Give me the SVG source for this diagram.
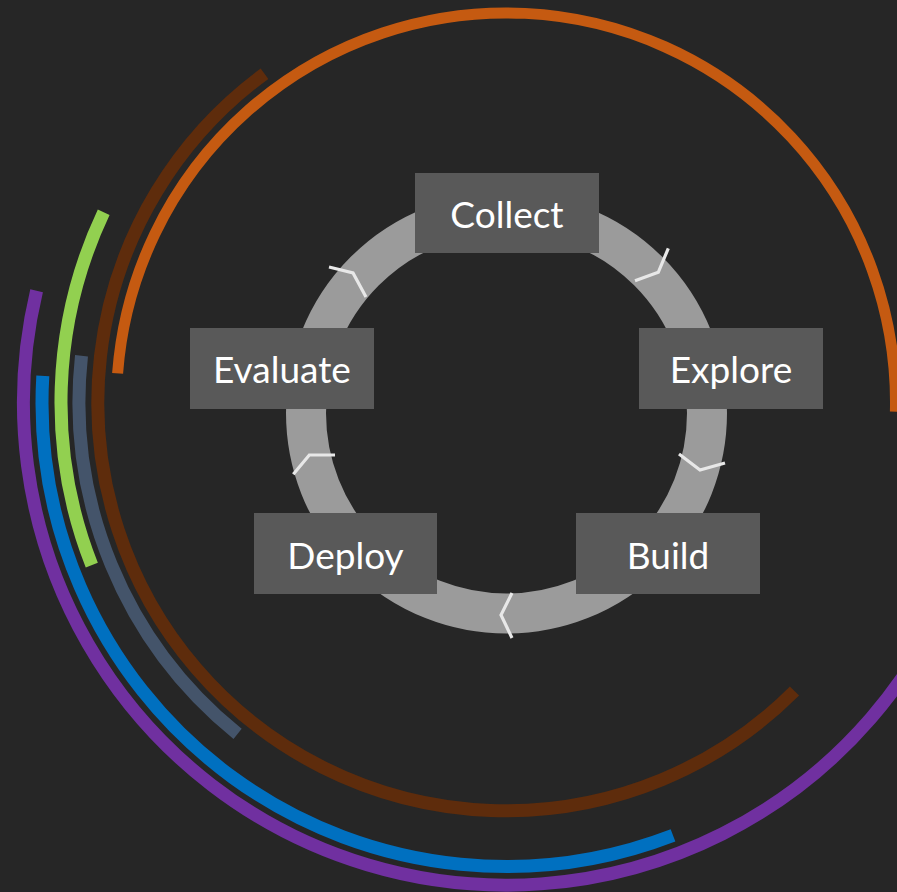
<svg xmlns="http://www.w3.org/2000/svg" width="897" height="892" viewBox="0 0 897 892">
  <style>
    .arc { fill: none; stroke-linecap: butt; }
    .box { fill: #595959; }
    .label { font-family: Lato, "Liberation Sans", sans-serif; font-size: 37px; fill: #ffffff; text-anchor: middle; }
    .chev { fill: none; stroke: #e8e8e8; stroke-width: 3.2; stroke-linejoin: miter; stroke-linecap: butt; }
  </style>
  <rect x="0" y="0" width="897" height="892" fill="#262626"/>
  <g id="outer-arcs">
    <path class="arc" d="M117.6,373.3 A389.5,389.5 0 0 1 895.4,411.7" stroke="#c55a11" stroke-width="11"/>
    <path class="arc" d="M794.5,691 A408,408 0 1 1 264.5,73.7" stroke="#5e2c0c" stroke-width="13"/>
    <path class="arc" d="M237.6,733.9 A426.5,426.5 0 0 1 81.5,355.7" stroke="#44546a" stroke-width="13"/>
    <path class="arc" d="M91.8,565.2 A445,445 0 0 1 103.7,212.3" stroke="#92d050" stroke-width="13"/>
    <path class="arc" d="M673,835.4 A464,464 0 0 1 42.8,375.8" stroke="#0070c0" stroke-width="13"/>
    <path class="arc" d="M959.4,567.5 A482.5,482.5 0 0 1 36.6,290.7" stroke="#7030a0" stroke-width="13"/>
  </g>
  <g id="cycle-ring">
    <circle cx="506.5" cy="413" r="200.5" fill="none" stroke="#9b9b9b" stroke-width="40"/>
  </g>
  <g id="connectors">
    <polyline class="chev" points="635,280.7 658.3,272.3 668.3,248.3"/>
    <polyline class="chev" points="679,454 700,470 725,463"/>
    <polyline class="chev" points="512,593 501,615 512,638"/>
    <polyline class="chev" points="293.3,474.3 309.3,455 335,455"/>
    <polyline class="chev" points="329,267 353,273 366,297"/>
  </g>
  <g id="node-collect">
    <rect class="box" x="415" y="173" width="184" height="80"/>
    <text class="label" x="507" y="228">Collect</text>
  </g>
  <g id="node-explore">
    <rect class="box" x="639" y="328" width="184" height="81"/>
    <text class="label" x="731" y="383">Explore</text>
  </g>
  <g id="node-build">
    <rect class="box" x="576" y="513" width="184" height="81"/>
    <text class="label" x="668" y="569">Build</text>
  </g>
  <g id="node-deploy">
    <rect class="box" x="254" y="513" width="183" height="81"/>
    <text class="label" x="345.5" y="569">Deploy</text>
  </g>
  <g id="node-evaluate">
    <rect class="box" x="190" y="328" width="184" height="81"/>
    <text class="label" x="282" y="383">Evaluate</text>
  </g>
</svg>
